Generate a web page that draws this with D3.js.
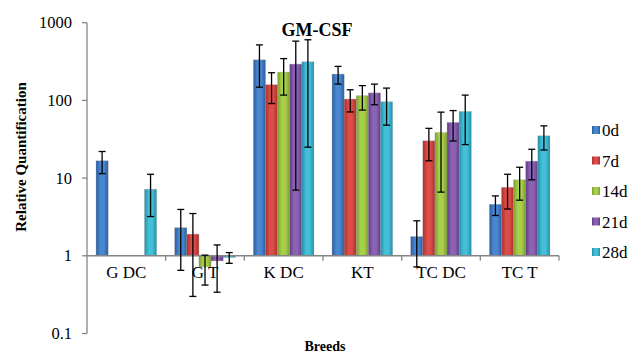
<!DOCTYPE html>
<html><head><meta charset="utf-8">
<script src="https://cdn.jsdelivr.net/npm/d3@7"></script>
<style>body{margin:0;background:#fff}svg{display:block}text{font-family:"Liberation Serif","Times New Roman",serif}</style>
</head><body>
<svg id="c" width="632" height="352"></svg>
<script>
const categories = ["G DC", "G T", "K DC", "KT", "TC DC", "TC T"];
const seriesNames = ["0d", "7d", "14d", "21d", "28d"];
const v0d  = [16.7, 2.3, 333, 218, 1.77, 4.6];
const v7d  = [null, 1.9, 159, 104, 30.2, 7.6];
const v14d = [null, 0.72, 231, 115, 38.6, 9.5];
const v21d = [null, 0.86, 293, 125, 52, 16.5];
const v28d = [7.2, 0.95, 314, 96, 72, 35];
const e0d  = [5.3, 1.65, 185, 56, 1.05, 1.3];
const e7d  = [null, 1.6, 68, 33, 13.5, 3.6];
const e14d = [null, 0.3, 114, 40, 32, 4.3];
const e21d = [null, 0.52, 286, 37, 22, 7];
const e28d = [4, 0.15, 289, 48, 45, 12];
const yTicks = [0.1, 1, 10, 100, 1000];

const values = [v0d, v7d, v14d, v21d, v28d];
const errors = [e0d, e7d, e14d, e21d, e28d];
const colors = [
  ["#2a5d9e", "#4a87d0"],
  ["#a9302d", "#dc4c48"],
  ["#7d9e2e", "#a8cf4c"],
  ["#5f3e85", "#8c62b5"],
  ["#2390a8", "#44bfd8"]
];

const svg = d3.select("#c");
const font = "'Liberation Serif','Times New Roman',serif";
const pL = 87, pR = 559, pT = 22.7, pB = 333.5;

const y = d3.scaleLog().domain([0.1, 1000]).range([pB, pT]);
const x0 = d3.scaleBand().domain(categories).range([pL, pR]).paddingInner(0).paddingOuter(0);
const bandW = x0.bandwidth();
const gap = bandW * 0.115;
const x1 = d3.scaleBand().domain(seriesNames).range([gap, bandW - gap]).padding(0);

const defs = svg.append("defs");
colors.forEach((c, i) => {
  const g = defs.append("linearGradient").attr("id", "g" + i).attr("x1", "0").attr("x2", "1").attr("y1", "0").attr("y2", "0");
  g.append("stop").attr("offset", "0").attr("stop-color", c[0]);
  g.append("stop").attr("offset", "0.35").attr("stop-color", c[1]);
  g.append("stop").attr("offset", "0.65").attr("stop-color", c[1]);
  g.append("stop").attr("offset", "1").attr("stop-color", c[0]);
});

const yOne = y(1);

// bars
seriesNames.forEach((s, si) => {
  const data = categories.map((c, ci) => ({c, v: values[si][ci], e: errors[si][ci]})).filter(d => d.v != null);
  svg.append("g").selectAll("rect").data(data).join("rect")
    .attr("x", d => x0(d.c) + x1(s))
    .attr("width", x1.bandwidth())
    .attr("y", d => Math.min(y(d.v), yOne))
    .attr("height", d => Math.abs(y(d.v) - yOne))
    .attr("fill", "url(#g" + si + ")")
    .attr("stroke", "#9a9a9a").attr("stroke-opacity", 0.5).attr("stroke-width", 0.6);
});

// axes
const axisColor = "#868686";
svg.append("line").attr("x1", pL).attr("x2", pL).attr("y1", y(1000)).attr("y2", y(0.1))
  .attr("stroke", axisColor).attr("stroke-width", 1.3);
yTicks.forEach(t => {
  svg.append("line").attr("x1", pL - 5).attr("x2", pL).attr("y1", y(t)).attr("y2", y(t))
    .attr("stroke", axisColor).attr("stroke-width", 1.3);
  svg.append("text").attr("x", 72).attr("y", y(t) + 5.5).attr("text-anchor", "end")
    .style("font-family", font).attr("font-size", 16.5).attr("fill", "#000").text(t);
});
svg.append("line").attr("x1", pL).attr("x2", pR).attr("y1", yOne).attr("y2", yOne)
  .attr("stroke", axisColor).attr("stroke-width", 1.5);
categories.forEach((c, i) => {
  const xb = x0(c);
  if (i > 0) svg.append("line").attr("x1", xb).attr("x2", xb).attr("y1", yOne).attr("y2", yOne + 5).attr("stroke", axisColor).attr("stroke-width", 1.3);
  svg.append("text").attr("x", xb + bandW / 2).attr("y", yOne + 22).attr("text-anchor", "middle")
    .style("font-family", font).attr("font-size", 17).attr("fill", "#000").text(c);
});
svg.append("line").attr("x1", pR).attr("x2", pR).attr("y1", yOne).attr("y2", yOne + 5).attr("stroke", axisColor).attr("stroke-width", 1.3);

// error bars
seriesNames.forEach((s, si) => {
  categories.forEach((c, ci) => {
    const v = values[si][ci], e = errors[si][ci];
    if (v == null || e == null) return;
    const cx = x0(c) + x1(s) + x1.bandwidth() / 2;
    const hi = v + e, lo = Math.max(v - e, 0.101);
    const g = svg.append("g").attr("stroke", "#000").attr("stroke-width", 1.3);
    g.append("line").attr("x1", cx).attr("x2", cx).attr("y1", y(hi)).attr("y2", y(lo));
    g.append("line").attr("x1", cx - 3.5).attr("x2", cx + 3.5).attr("y1", y(hi)).attr("y2", y(hi));
    g.append("line").attr("x1", cx - 3.5).attr("x2", cx + 3.5).attr("y1", y(lo)).attr("y2", y(lo));
  });
});

// title
svg.append("text").attr("x", 317).attr("y", 36).attr("text-anchor", "middle")
  .style("font-family", font).attr("font-size", 18).attr("font-weight", "bold").text("GM-CSF");
// axis titles
svg.append("text").attr("x", 325).attr("y", 350.5).attr("text-anchor", "middle")
  .style("font-family", font).attr("font-size", 14).attr("font-weight", "bold").text("Breeds");
svg.append("text").attr("transform", "translate(26,157) rotate(-90)").attr("text-anchor", "middle")
  .style("font-family", font).attr("font-size", 15).attr("font-weight", "bold").text("Relative Quantification");

// legend
const leg = svg.append("g");
seriesNames.forEach((s, i) => {
  const ly = 130 + i * 30.5;
  leg.append("rect").attr("x", 592).attr("y", ly - 4).attr("width", 8).attr("height", 8)
    .attr("fill", "url(#g" + i + ")");
  leg.append("text").attr("x", 602).attr("y", ly + 6).style("font-family", font).attr("font-size", 17).text(s);
});
</script>
</body></html>
